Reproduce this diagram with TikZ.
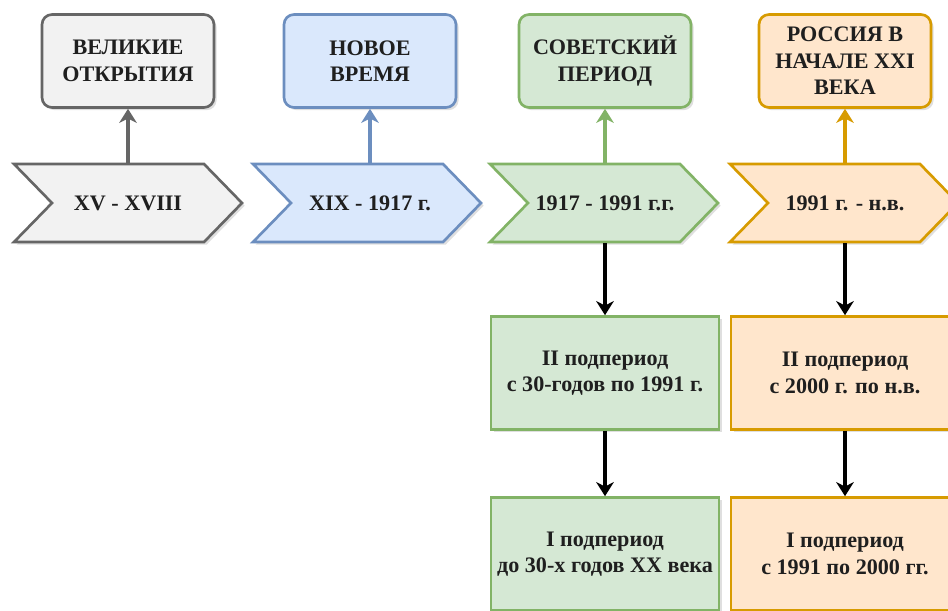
\documentclass[tikz,border=0pt]{standalone}
\usepackage{fontspec}
\setmainfont{Liberation Serif}
\usetikzlibrary{arrows.meta,shadows}

\definecolor{grayF}{HTML}{F2F2F2}\definecolor{grayD}{HTML}{666666}
\definecolor{blueF}{HTML}{DAE8FC}\definecolor{blueD}{HTML}{6C8EBF}
\definecolor{greenF}{HTML}{D5E8D4}\definecolor{greenD}{HTML}{82B366}
\definecolor{orangeF}{HTML}{FFE6CC}\definecolor{orangeD}{HTML}{D79B00}

\tikzset{
	shade/.style={drop shadow={shadow xshift=1.5pt,shadow yshift=-1.5pt,opacity=.25}},
	erabox/.style={draw=#1D,fill=#1F,line width=1.5pt,rounded corners=.2cm,shade,
		minimum width=3.44cm,minimum height=1.86cm,align=center},
	chev/.style={draw=#1D,fill=#1F,line width=1.5pt,shade},
	period/.style={minimum width=3cm,minimum height=1.6cm,inner sep=0pt},
	subbox/.style={draw=#1D,fill=#1F,line width=1.5pt,shade,
		minimum width=4.56cm,minimum height=2.26cm,align=center},
	arrup/.style={draw=#1D,line width=2pt,-{Stealth[length=8pt,width=10pt,inset=2.5pt]}},
	arrdown/.style={draw=black,line width=2pt,-{Stealth[length=8pt,width=10pt,inset=2.5pt]}}
}

\begin{document}
\begin{tikzpicture}[x=.02cm,y=-.02cm,font=\fontsize{12.6}{15}\selectfont\bfseries,text=black!88]
	\useasboundingbox (0,0) rectangle (948,610);
	\clip (0,0) rectangle (948,610);
	\fill[white] (0,0) rectangle (948,610);
	% chevrons
	\foreach \l/\c in {14/gray,253/blue,490/green,730/orange}
		\draw[chev=\c] (\l,164) -- ++(190,0) -- ++(38,39) -- ++(-38,39) -- ++(-190,0) -- ++(38,-39) -- cycle;
	\path
	(128,203) node[period] (p1) {XV - XVIII}
	(370,203) node[period] (p2) {XIX - 1917 г.}
	(605,203) node[period] (p3) {1917 - 1991 г.г.}
	(845,203) node[period] (p4) {1991 г. - н.в.}
	(128,61) node[erabox=gray] (e1) {ВЕЛИКИЕ\\ОТКРЫТИЯ}
	(370,61) node[erabox=blue] (e2) {НОВОЕ\\ВРЕМЯ}
	(605,61) node[erabox=green] (e3) {СОВЕТСКИЙ\\ПЕРИОД}
	(845,61) node[erabox=orange] (e4) {РОССИЯ В\\НАЧАЛЕ XXI\\ВЕКА}
	(605,373) node[subbox=green] (g2) {II подпериод\\с 30-годов по 1991 г.}
	(605,554) node[subbox=green] (g1) {I подпериод\\до 30-х годов XX века}
	(845,373) node[subbox=orange] (o2) {II подпериод\\с 2000 г. по н.в.}
	(845,554) node[subbox=orange] (o1) {I подпериод\\с 1991 по 2000 гг.};
	\foreach \n/\c in {1/gray,2/blue,3/green,4/orange} \draw[arrup=\c] (p\n) -- (e\n);
	\draw[arrdown] (p3) -- (g2);
	\draw[arrdown] (g2) -- (g1);
	\draw[arrdown] (p4) -- (o2);
	\draw[arrdown] (o2) -- (o1);
\end{tikzpicture}
\end{document}
